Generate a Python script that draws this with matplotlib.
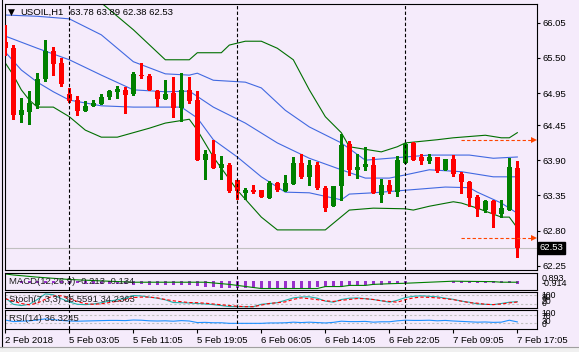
import matplotlib
matplotlib.use("Agg")
import matplotlib.pyplot as plt
from matplotlib.lines import Line2D
from matplotlib.patches import Rectangle
import numpy as np

W, H = 579, 352
BG = "#f5ebfb"
GREEN = "#008000"
RED = "#ff0000"
BLUE = "#4169e1"
DKGREEN = "#006f00"

# --- USOIL H1 candles (bar 0 = 2 Feb, bar 64 = 7 Feb 17:05)
opens = [65.75, 65.66, 64.60, 64.65, 64.77, 65.17, 65.61, 65.42, 64.94, 64.84,
         64.67, 64.75, 64.78, 64.89, 64.96, 65.00, 64.94, 65.23, 65.21, 64.98,
         64.86, 64.95, 64.71, 64.99, 64.84, 63.90, 64.00, 63.77, 63.82, 63.59,
         63.39, 63.44, 63.43, 63.31, 63.54, 63.42, 63.53, 63.85, 63.63, 63.82,
         63.46, 63.18, 63.49, 64.15, 63.75, 63.80, 63.82, 63.36, 63.51, 63.41,
         63.85, 64.17, 63.95, 63.88, 63.95, 63.75, 63.92, 63.68, 63.56, 63.32,
         63.12, 63.26, 63.06, 63.12, 63.78]
highs = [66.01, 65.70, 64.87, 64.98, 65.26, 65.78, 65.67, 65.49, 65.03, 64.91,
         64.82, 64.84, 64.94, 64.99, 65.06, 65.04, 65.28, 65.42, 65.25, 65.00,
         65.15, 65.20, 65.27, 65.20, 64.98, 64.06, 64.22, 63.97, 63.85, 63.59,
         63.47, 63.51, 63.43, 63.58, 63.56, 63.67, 63.95, 64.00, 63.90, 63.87,
         63.49, 63.50, 64.31, 64.20, 64.00, 64.10, 63.95, 63.60, 63.59, 63.97,
         64.17, 64.18, 64.00, 64.00, 63.95, 63.92, 63.98, 63.72, 63.57, 63.36,
         63.28, 63.28, 63.27, 63.93, 63.89]
lows = [65.54, 64.54, 64.50, 64.47, 64.72, 65.14, 65.23, 65.06, 64.81, 64.61,
        64.67, 64.75, 64.78, 64.86, 64.87, 64.64, 64.92, 65.18, 64.99, 64.75,
        64.86, 64.58, 64.52, 64.80, 63.90, 63.60, 63.77, 63.60, 63.41, 63.30,
        63.30, 63.38, 63.32, 63.31, 63.42, 63.42, 63.53, 63.62, 63.51, 63.45,
        63.11, 63.18, 63.27, 63.67, 63.62, 63.74, 63.38, 63.24, 63.39, 63.34,
        63.85, 63.91, 63.84, 63.86, 63.72, 63.75, 63.66, 63.39, 63.18, 63.03,
        63.09, 62.86, 63.01, 63.12, 62.38]
closes = [65.65, 64.61, 64.68, 64.80, 65.17, 65.61, 65.40, 65.09, 64.83, 64.67,
          64.74, 64.80, 64.89, 64.98, 65.02, 64.92, 65.24, 65.21, 64.99, 64.86,
          64.94, 64.72, 65.00, 64.83, 63.90, 64.00, 63.77, 63.84, 63.42, 63.42,
          63.43, 63.40, 63.33, 63.55, 63.43, 63.55, 63.86, 63.63, 63.82, 63.46,
          63.16, 63.50, 64.14, 63.74, 63.79, 63.84, 63.38, 63.51, 63.42, 63.91,
          64.16, 63.91, 63.89, 63.95, 63.73, 63.92, 63.68, 63.56, 63.31, 63.13,
          63.26, 63.06, 63.15, 63.79, 62.53]

# Bollinger bands (blue = inner band + middle, green = outer band), read at bar positions
bb_up_bars = [0, 4, 8, 12, 16, 20, 23, 24, 26, 30, 32, 35, 38, 42, 45, 48, 53, 58, 61, 64]
bb_up = [66.17, 66.15, 66.11, 65.86, 65.44, 65.25, 65.23, 65.26, 65.15, 65.12,
         65.03, 64.68, 64.42, 64.17, 63.90, 63.93, 63.98, 63.98, 63.93, 63.95]
bb_mid_bars = [0, 4, 8, 12, 16, 20, 23, 26, 30, 34, 38, 42, 45, 48, 50, 53, 57, 61, 64]
bb_mid = [65.84, 65.65, 65.47, 65.23, 65.00, 64.97, 64.98, 64.73, 64.48, 64.17,
          63.93, 63.75, 63.62, 63.62, 63.67, 63.75, 63.72, 63.64, 63.64]
bb_low_bars = [0, 2, 4, 6, 8, 12, 16, 22, 24, 26, 29, 32, 35, 38, 42, 43, 46, 50,
               55, 58, 59, 62, 64]
bb_low = [65.59, 65.31, 65.12, 64.97, 64.84, 64.75, 64.73, 64.73, 64.56, 64.22,
          63.95, 63.64, 63.40, 63.39, 63.28, 63.37, 63.39, 63.43, 63.48, 63.47,
          63.40, 63.23, 63.07]
bb2_up_bars = [12, 16, 20, 23, 24, 27, 28, 30, 32, 34, 36, 38, 40, 42, 43, 44, 47,
               49, 50, 54, 56, 60, 62, 63, 64]
bb2_up = [66.36, 65.94, 65.47, 65.47, 65.58, 65.58, 65.70, 65.76, 65.76, 65.65,
          65.47, 65.00, 64.58, 64.33, 64.11, 64.09, 64.03, 64.11, 64.17, 64.22,
          64.25, 64.29, 64.25, 64.25, 64.33]
bb2_low_bars = [0, 1, 2, 3, 4, 6, 8, 10, 12, 14, 16, 18, 20, 23, 24, 26, 29, 32,
                34, 40, 43, 46, 50, 51, 53, 56, 57, 59, 62, 63, 64]
bb2_low = [65.42, 65.23, 65.00, 64.84, 64.73, 64.73, 64.58, 64.37, 64.26, 64.26,
           64.33, 64.40, 64.48, 64.54, 64.37, 63.95, 63.43, 63.01, 62.81, 62.81,
           63.12, 63.15, 63.14, 63.12, 63.18, 63.25, 63.23, 63.15, 63.01, 63.01,
           62.84]

# orange dashed target levels
level_start = 57
levels = [64.22, 62.69]

# MACD(12,26,9)
macd_hist = [-0.02, -0.05, -0.08, -0.10, -0.10, -0.08, -0.08, -0.10, -0.12, -0.15,
             -0.18, -0.22, -0.25, -0.26, -0.26, -0.27, -0.28, -0.27, -0.28, -0.29,
             -0.29, -0.30, -0.28, -0.29, -0.40, -0.50, -0.58, -0.62, -0.66, -0.68,
             -0.68, -0.68, -0.67, -0.66, -0.66, -0.66, -0.64, -0.62, -0.60, -0.59,
             -0.58, -0.55, -0.50, -0.45, -0.42, -0.38, -0.34, -0.30, -0.25, -0.20,
             -0.10, -0.06, -0.05, -0.05, -0.05, -0.06, -0.07, -0.08, -0.09, -0.10,
             -0.12, -0.14, -0.15, -0.12, -0.21]
macd_sig_bars = [0, 1, 4, 8, 12, 16, 25, 28, 32, 39, 40, 42, 43, 45, 46, 48, 50,
                 56, 61, 62, 64]
macd_sig = [0.74, 0.63, 0.40, 0.15, 0.00, -0.14, -0.14, -0.37, -0.81, -0.81,
            -0.60, -0.60, -0.48, -0.48, -0.37, -0.30, -0.25, -0.03, -0.08, -0.14,
            -0.14]
macd_max, macd_min = 0.893, -0.914
macd_last = (-0.213, -0.134)

# Stochastic(7,3,3)
stoch_k = [60, 20, 12, 20, 50, 85, 80, 55, 35, 20, 18, 22, 30, 40, 48, 58, 75, 72,
           65, 58, 48, 31, 30, 28, 25, 22, 18, 12, 6, 5, 5, 5, 20, 25, 30, 45, 60,
           66, 67, 58, 40, 33, 50, 58, 60, 55, 50, 42, 33, 45, 62, 70, 73, 70, 67,
           58, 51, 40, 33, 22, 20, 18, 25, 33, 36.6]
stoch_d = [55, 40, 25, 17, 27, 52, 72, 73, 57, 37, 24, 20, 23, 31, 39, 49, 62, 65,
           65, 60, 50, 42, 36, 31, 30, 27, 22, 17, 12, 8, 5, 5, 15, 25, 30, 35, 51,
           60, 55, 49, 42, 38, 45, 50, 56, 55, 50, 42, 38, 33, 49, 60, 65, 63, 60,
           55, 49, 40, 30, 27, 20, 18, 22, 29, 34.2]
stoch_last = (36.5591, 34.2363)

# RSI(14)
rsi = [46, 38, 40, 42, 46, 52, 48, 44, 41, 40, 41, 42, 43, 44, 44, 43, 46, 45, 42,
       41, 42, 40, 43, 41, 33, 34, 32, 32, 29, 29, 29, 29, 29, 31, 31, 32, 35, 33,
       35, 33, 31, 34, 40, 38, 38, 39, 35, 37, 37, 42, 45, 44, 44, 45, 42, 44, 41,
       39, 37, 35, 36, 34, 35, 45, 36.3]
rsi_last = 36.3245

price_ticks = [66.05, 65.50, 64.95, 64.45, 63.90, 63.35, 62.80, 62.25]
time_ticks = [0, 8, 16, 24, 32, 40, 48, 56, 64]
time_labels = ["2 Feb 2018", "5 Feb 03:05", "5 Feb 11:05", "5 Feb 19:05",
               "6 Feb 06:05", "6 Feb 14:05", "6 Feb 22:05", "7 Feb 09:05",
               "7 Feb 17:05"]
day_starts = [8, 29, 50]

plt.rcParams["font.family"] = ["Liberation Sans", "DejaVu Sans"]
plt.rcParams["font.size"] = 6.8

fig = plt.figure(figsize=(W / 100, H / 100), dpi=100, facecolor=BG)


def pane(x0, y0, x1, y1):
    a = fig.add_axes([x0 / W, 1 - y1 / H, (x1 - x0) / W, (y1 - y0) / H])
    a.set_facecolor(BG)
    for s in a.spines.values():
        s.set_linewidth(0.8)
        s.set_color("black")
    a.set_xlim(-0.04, 66.46)
    a.set_xticks([])
    a.set_yticks([])
    return a


ax = pane(5, 4, 537, 270)
ax_macd = pane(5, 272.5, 537, 289.5)
ax_st = pane(5, 291.5, 537, 307.5)
ax_rsi = pane(5, 309.5, 537, 329)

idx = np.arange(len(opens))
o = np.array(opens); c = np.array(closes)
cols = np.where(c >= o, GREEN, RED)
ax.vlines(idx, lows, highs, colors=cols, lw=0.8, antialiased=False, zorder=3)
ax.bar(idx, np.maximum(np.abs(c - o), 0.012), bottom=np.minimum(o, c), width=0.64,
       color=cols, linewidth=0, antialiased=False, zorder=4)

for bars, vals, col in [(bb_up_bars, bb_up, BLUE), (bb_mid_bars, bb_mid, BLUE),
                        (bb_low_bars, bb_low, BLUE), (bb2_up_bars, bb2_up, DKGREEN),
                        (bb2_low_bars, bb2_low, DKGREEN)]:
    ax.plot(bars, vals, color=col, lw=0.8, zorder=2)

ax.axhline(closes[-1], color="#c0c0c0", lw=0.8, zorder=1)
for lv in levels:
    ax.plot([level_start, 65.9], [lv, lv], color="#ff4500", lw=0.8,
            dashes=(3, 2), zorder=5)
    ax.plot([66.1], [lv], marker=">", color="#ff4500", ms=4, mew=0, clip_on=False,
            zorder=5)
ax.set_ylim(62.183, 66.342)
ax.yaxis.tick_right()
ax.set_yticks(price_ticks)
ax.set_yticklabels([f"{p:.2f}" for p in price_ticks])
ax.tick_params(axis="y", length=2.5, width=0.8, pad=1.5, direction="out")

# last price box
ax.text(1.005, closes[-1], f"{closes[-1]:.2f}", transform=ax.get_yaxis_transform(),
        color="white", va="center", ha="left", fontsize=6.8,
        bbox=dict(boxstyle="square,pad=0.15", fc="black", ec="black"))

# MACD pane
ax_macd.set_ylim(macd_min, macd_max)
ax_macd.vlines(idx, 0, macd_hist, colors="#9932cc", lw=0.8, antialiased=False)
ax_macd.plot(macd_sig_bars, macd_sig, color=GREEN, lw=0.8)
ax_macd.text(0.008, 0.45, f"MACD(12,26,9) {macd_last[0]:.3f} {macd_last[1]:.3f}",
             transform=ax_macd.transAxes, va="center", ha="left", color="#202020")
ax_macd.text(1.008, 0.66, f"{macd_max:.3f}", transform=ax_macd.transAxes, va="center",
             fontsize=6.5)
ax_macd.text(1.008, 0.36, f"{macd_min:.3f}", transform=ax_macd.transAxes, va="center",
             fontsize=6.5)

# Stochastic pane
ax_st.set_ylim(0, 100)
for lv in (80, 20):
    ax_st.axhline(lv, color="#c0c0c0", lw=0.8, dashes=(2, 2))
ax_st.plot(idx, stoch_k, color="#20b2aa", lw=0.8)
ax_st.plot(idx, stoch_d, color=RED, lw=0.8, dashes=(3, 2))
ax_st.text(0.008, 0.5, f"Stoch(7,3,3) {stoch_last[0]:.4f} {stoch_last[1]:.4f}",
           transform=ax_st.transAxes, va="center", ha="left", color="#202020")
for lbl, yy in [("100", 0.78), ("80", 0.62), ("20", 0.38), ("0", 0.22)]:
    ax_st.text(1.008, yy, lbl, transform=ax_st.transAxes, va="center", fontsize=6.2)

# RSI pane
ax_rsi.set_ylim(0, 100)
for lv in (70, 30):
    ax_rsi.axhline(lv, color="#c0c0c0", lw=0.8, dashes=(2, 2))
ax_rsi.plot(idx, rsi, color="#1e90ff", lw=0.8)
ax_rsi.text(0.008, 0.55, f"RSI(14) {rsi_last:.4f}", transform=ax_rsi.transAxes,
            va="center", ha="left", color="#202020")
for lbl, yy in [("100", 0.78), ("70", 0.62), ("30", 0.4), ("0", 0.24)]:
    ax_rsi.text(1.008, yy, lbl, transform=ax_rsi.transAxes, va="center", fontsize=6.2)

ax_rsi.set_xticks(time_ticks)
ax_rsi.set_xticklabels(time_labels, ha="left")
ax_rsi.tick_params(axis="x", length=3, width=0.8, pad=2, direction="out")

for a in (ax, ax_macd, ax_st, ax_rsi):
    for d in day_starts:
        a.axvline(d, color="black", lw=0.8, dashes=(3, 2), zorder=6)

# title line
fig.text(8 / W, 1 - 12.5 / H, "\u25bc", fontsize=6.5, va="center", ha="left",
         family="DejaVu Sans")
fig.text(20 / W, 1 - 12.5 / H, "USOIL,H1", va="center", ha="left")
fig.text(70 / W, 1 - 12.5 / H,
         f"{opens[-1]:.2f} {highs[-1]:.2f} {lows[-1]:.2f} {closes[-1]:.2f}",
         va="center", ha="left")

# window frame
fig.add_artist(Line2D([2 / W, 2 / W], [1 - 347 / H, 1], color="black", lw=0.8))
fig.add_artist(Rectangle((0, 0), 1, 5 / H, color="#f0f0f0", transform=fig.transFigure))
fig.add_artist(Line2D([0, 1], [5 / H, 5 / H], color="#a0a0a0", lw=0.8))

fig.savefig("out.png", dpi=100, facecolor=BG)
